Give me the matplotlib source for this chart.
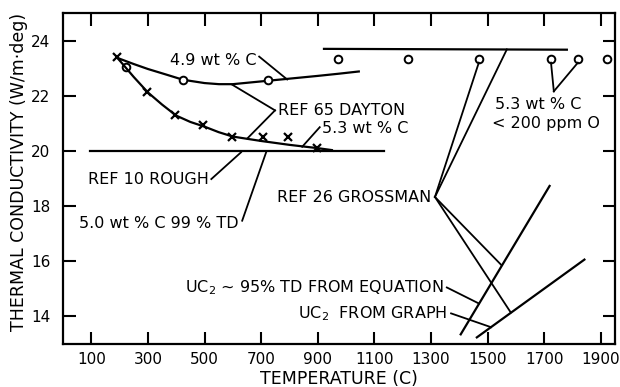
#----------------------------------------------------------------------
# import libraries
#----------------------------------------------------------------------

import matplotlib
matplotlib.use("Agg")
import matplotlib.pyplot as plt

plt.rcParams['font.family'] = ['DejaVu Sans']
plt.rcParams['mathtext.default'] = 'regular'

#----------------------------------------------------------------------
# data
#----------------------------------------------------------------------

# REF 65 DAYTON, 4.9 wt % C (circles) and smooth curve
temp_49 = [223, 424, 724]
k_49 = [23.06, 22.56, 22.56]
curve_49_t = [190, 250, 300, 364, 424, 500, 551, 600, 700, 800, 900, 975, 1045]
curve_49_k = [23.38, 23.15, 22.97, 22.77, 22.58, 22.46, 22.42, 22.42, 22.52, 22.62, 22.72, 22.8, 22.88]

# REF 65 DAYTON, 5.3 wt % C (crosses) and smooth curve
temp_53 = [192, 298, 396, 495, 597, 707, 795, 898]
k_53 = [23.4, 22.12, 21.29, 20.93, 20.5, 20.5, 20.5, 20.1]
curve_53_t = [190, 250, 300, 350, 400, 450, 500, 550, 600, 650, 700, 800, 900, 950]
curve_53_k = [23.4, 22.68, 22.12, 21.68, 21.28, 21.05, 20.88, 20.68, 20.52, 20.44, 20.36, 20.22, 20.1, 20.03]

# REF 10 ROUGH, 5.0 wt % C 99 % TD
rough_t = [95, 1135]
rough_k = [20.0, 20.0]

# REF 26 GROSSMAN, 5.3 wt % C < 200 ppm O
gross_t = [972, 1219, 1469, 1724, 1819, 1921]
gross_k = [23.35, 23.35, 23.35, 23.35, 23.35, 23.35]
gross_line_t = [922, 1780]
gross_line_k = [23.7, 23.67]

# UC2 lines
uc2_eq_t = [1405, 1719]
uc2_eq_k = [13.35, 18.73]
uc2_graph_t = [1462, 1842]
uc2_graph_k = [13.24, 16.06]

x_ticks = [100, 300, 500, 700, 900, 1100, 1300, 1500, 1700, 1900]
y_ticks = [14, 16, 18, 20, 22, 24]

#----------------------------------------------------------------------
# plotting
#----------------------------------------------------------------------

fig = plt.figure(figsize=(6.2, 3.87), dpi=100)
ax = fig.add_axes([0.1016, 0.1111, 0.8903, 0.8553])

lw = 1.6
ink = 'black'

ax.plot(curve_49_t, curve_49_k, color=ink, lw=lw)
ax.plot(temp_49, k_49, 'o', mfc='white', mec=ink, mew=1.4, ms=5.5)

ax.plot(curve_53_t, curve_53_k, color=ink, lw=lw)
ax.plot(temp_53, k_53, 'x', color=ink, mew=1.6, ms=5.5)

ax.plot(rough_t, rough_k, color=ink, lw=lw)

ax.plot(gross_line_t, gross_line_k, color=ink, lw=lw)
ax.plot(gross_t, gross_k, 'o', mfc='white', mec=ink, mew=1.4, ms=5.5)

ax.plot(uc2_eq_t, uc2_eq_k, color=ink, lw=lw)
ax.plot(uc2_graph_t, uc2_graph_k, color=ink, lw=lw)

#----------------------------------------------------------------------
# labels with leader lines
#----------------------------------------------------------------------

fs = 11.5

def leader(p0, p1):
    ax.plot([p0[0], p1[0]], [p0[1], p1[1]], color=ink, lw=1.3)

ax.text(682, 23.28, '4.9 wt % C', fontsize=fs, ha='right', va='center')
leader((693, 23.42), (792, 22.59))

ax.text(758, 21.47, 'REF 65 DAYTON', fontsize=fs, ha='left', va='center')
leader((749, 21.47), (598, 22.4))
leader((749, 21.47), (651, 20.45))

ax.text(915, 20.82, '5.3 wt % C', fontsize=fs, ha='left', va='center')
leader((907, 20.86), (845, 20.15))

ax.text(516, 18.95, 'REF 10 ROUGH', fontsize=fs, ha='right', va='center')
leader((524, 18.98), (629, 19.95))

ax.text(622, 17.36, '5.0 wt % C 99 % TD', fontsize=fs, ha='right', va='center')
leader((633, 17.47), (718, 19.96))

ax.text(1300, 18.3, 'REF 26 GROSSMAN', fontsize=fs, ha='right', va='center')
for end in [(1469, 23.2), (1568, 23.68), (1547, 15.88), (1582, 14.14)]:
    leader((1314, 18.33), end)

ax.text(1526, 21.69, '5.3 wt % C', fontsize=fs, ha='left', va='center')
ax.text(1514, 21.0, '< 200 ppm O', fontsize=fs, ha='left', va='center')
leader((1734, 22.16), (1724, 23.2))
leader((1734, 22.16), (1819, 23.2))

ax.text(1346, 15.05, 'UC$_2$ ~ 95% TD FROM EQUATION', fontsize=fs, ha='right', va='center')
leader((1356, 15.05), (1469, 14.47))

ax.text(1356, 14.1, 'UC$_2$  FROM GRAPH', fontsize=fs, ha='right', va='center')
leader((1371, 14.11), (1512, 13.61))

#----------------------------------------------------------------------
# axes
#----------------------------------------------------------------------

ax.set_xlim(0, 1950)
ax.set_ylim(13, 25)
ax.set_xticks(x_ticks)
ax.set_yticks(y_ticks)
ax.tick_params(direction='in', length=9, width=1.5, top=True, right=True,
               labelsize=11)
ax.tick_params(axis='y', pad=9)
ax.tick_params(axis='x', pad=6)
for s in ax.spines.values():
    s.set_linewidth(1.6)

ax.set_xlabel('TEMPERATURE (C)', fontsize=12.5, labelpad=2)
fig.text(19 / 620, 1 - 172 / 387, 'THERMAL CONDUCTIVITY (W/m·deg)', fontsize=12.5,
         rotation=90, ha='center', va='center')

plt.savefig('out.png', dpi=100)
